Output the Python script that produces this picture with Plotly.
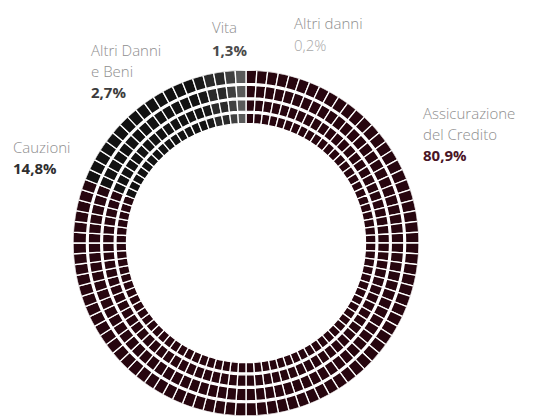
import plotly.graph_objects as go

# Portfolio split by line of business (percent of total)
categories = ["Assicurazione del Credito", "Cauzioni", "Altri Danni e Beni", "Vita", "Altri danni"]
label_lines = [["Assicurazione", "del Credito"], ["Cauzioni"], ["Altri Danni", "e Beni"], ["Vita"], ["Altri danni"]]
shares = [80.9, 14.8, 2.7, 1.3, 0.2]

# Styling
cell_colors = ["#27060f", "#121212", "#2a2a2a", "#4e4e4e", "#858585"]
value_colors = ["#4a1526", "#2f2f2f", "#3c3c3c", "#4a4a4a", "#a8a8a8"]
value_bold = [True, True, True, True, False]
name_color = "#8e8e8e"

W, H = 535, 416
CX, CY, RADIUS = 246, 243, 173          # donut centre / outer radius in px
SECTORS = 100                            # angular cells (one per percent)
RINGS = [(119.5, 130.0), (131.8, 143.5), (145.3, 157.8), (159.6, 173.0)]


def hex_rgb(h):
    h = h.lstrip("#")
    return [int(h[i:i + 2], 16) for i in (0, 2, 4)]


# cumulative bounds of each category along the 0..100 scale
bounds = []
start = 0.0
for s in shares:
    bounds.append((start, start + s))
    start += s

# each cell gets the colour mix of the categories it overlaps
cell_fill = []
for i in range(SECTORS):
    lo, hi = i * 100 / SECTORS, (i + 1) * 100 / SECTORS
    acc = [0.0, 0.0, 0.0]
    wsum = 0.0
    for (a, b), col in zip(bounds, cell_colors):
        w = max(0.0, min(hi, b) - max(lo, a))
        if w > 0:
            rgb = hex_rgb(col)
            acc = [acc[k] + w * rgb[k] for k in range(3)]
            wsum += w
    if wsum == 0:
        acc, wsum = hex_rgb(cell_colors[-1]), 1.0
    cell_fill.append("rgb({:.0f},{:.0f},{:.0f})".format(*[c / wsum for c in acc]))

step = 360 / SECTORS
thetas, widths, bases, lengths, fills = [], [], [], [], []
for r0, r1 in RINGS:
    for i in range(SECTORS):
        thetas.append((i + 0.5) * step)
        widths.append(step)
        bases.append(r0)
        lengths.append(r1 - r0)
        fills.append(cell_fill[i])

fig = go.Figure(go.Barpolar(
    theta=thetas,
    r=lengths,
    base=bases,
    width=widths,
    marker=dict(color=fills, line=dict(color="white", width=1.3)),
    hoverinfo="skip",
))

fig.update_layout(
    width=W, height=H,
    margin=dict(l=0, r=0, t=0, b=0),
    paper_bgcolor="white",
    showlegend=False,
    polar=dict(
        domain=dict(x=[(CX - RADIUS) / W, (CX + RADIUS) / W], y=[0, 2 * RADIUS / H]),
        bgcolor="white",
        bargap=0,
        radialaxis=dict(range=[0, RADIUS], visible=False, showgrid=False),
        angularaxis=dict(rotation=90, direction="clockwise", visible=False, showgrid=False),
    ),
)

# label blocks: left x, first line centre y, line spacing (px)
label_pos = [(421, 113, 21), (11, 147, 20.5), (89, 50, 21), (210, 27, 23), (292, 23, 22)]

for name_lines, share, vcol, bold, (lx, ly, dy) in zip(label_lines, shares, value_colors, value_bold, label_pos):
    y = ly
    for line in name_lines:
        fig.add_annotation(x=lx / W, y=1 - y / H, xref="paper", yref="paper",
                           xanchor="left", yanchor="middle", showarrow=False,
                           text=line, font=dict(family="Open Sans", size=15, color=name_color, weight=300))
        y += dy
    value_txt = f"{share:.1f}%".replace(".", ",")
    fig.add_annotation(x=lx / W, y=1 - y / H, xref="paper", yref="paper",
                       xanchor="left", yanchor="middle", showarrow=False,
                       text=f"<b>{value_txt}</b>" if bold else value_txt,
                       font=dict(family="Open Sans", size=15, color=vcol,
                                 weight=400 if bold else 300))

fig.write_html("out.html")
